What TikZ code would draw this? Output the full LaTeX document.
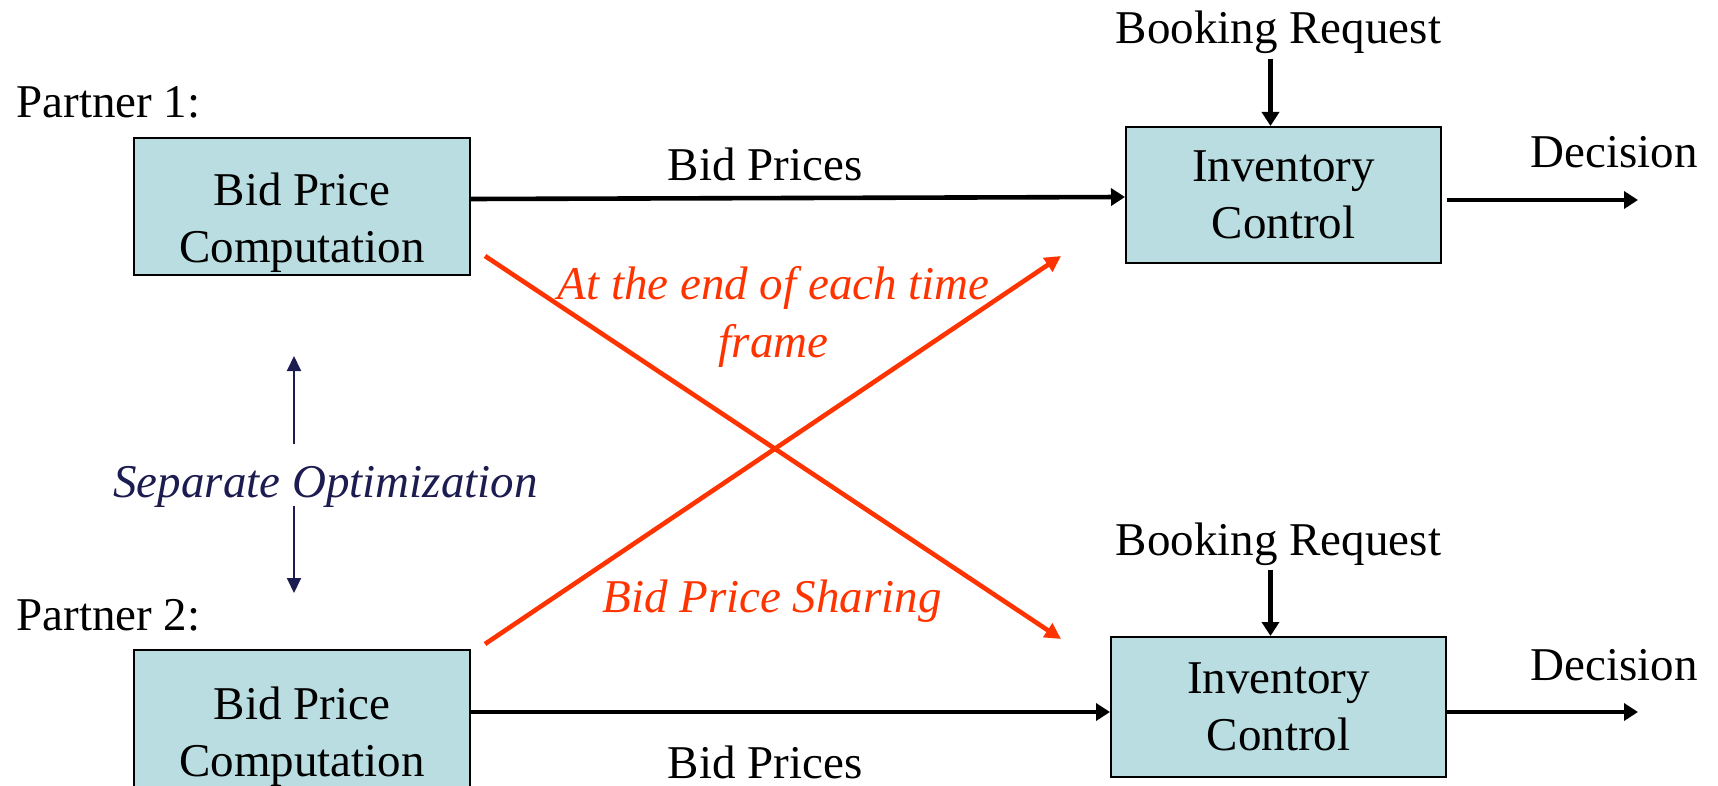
\documentclass[tikz,border=0pt]{standalone}
\usepackage{fontspec}
\setmainfont{Liberation Serif}
\usetikzlibrary{positioning,arrows.meta}
\definecolor{boxfill}{RGB}{185,221,224}
\definecolor{share}{RGB}{255,51,0}
\definecolor{navy}{RGB}{28,28,80}

\begin{document}
\begin{tikzpicture}[x=0.5pt,y=-0.5pt,font=\fontsize{23.5}{28.5}\selectfont,
  box/.style={draw,line width=1pt,fill=boxfill,align=center,inner sep=0pt},
  bidbox/.style={box,minimum width=168pt,minimum height=68.5pt,text height=60pt,text depth=4pt},
  txt/.style={inner sep=0pt,anchor=base},
  slanted/.style={txt,font=\fontsize{23.5}{28.5}\selectfont\itshape},
  flow/.style={line width=2.3pt,-{Triangle[length=7pt,width=8.5pt]}},
  sharing/.style={share,line width=2.3pt,-{Triangle[length=8pt,width=8pt]}},
  sep/.style={navy,line width=1pt,-{Triangle[length=7.5pt,width=7pt]}}]
\useasboundingbox (0,0) rectangle (1718,786);
% partner 1
\node[txt,anchor=base west] (p1) at (16,118) {Partner 1:};
\node[bidbox] (bp1) at (302,207) {Bid Price\\Computation};
\node[box,minimum width=157.5pt,minimum height=68pt] (ic1) at (1283.5,195) {Inventory\\Control};
\node[txt] (br1) at (1278.5,44) {Booking Request};
\node[txt] (dec1) at (1614,168) {Decision};
\node[txt] (bpr1) at (765,181) {Bid Prices};
% partner 2
\node[txt,anchor=base west] (p2) at (16,630) {Partner 2:};
\node[bidbox,minimum height=70pt] (bp2) at (302,720) {Bid Price\\Computation};
\node[box,minimum width=167.5pt,minimum height=70pt] (ic2) at (1278.5,707) {Inventory\\Control};
\node[txt] (br2) at (1278.5,555) {Booking Request};
\node[txt] (dec2) at (1614,680) {Decision};
\node[txt] (bpr2) at (765,778) {Bid Prices};
% middle
\node[slanted,navy] (sepopt) at (325.5,497) {Separate Optimization};
\node[slanted,share,align=center] (endframe) at (773.5,357) {At the end of each time\\frame};
\node[slanted,share] (sharing) at (772,612) {Bid Price Sharing};
\coordinate (d1) at (1638,200); \coordinate (d2) at (1638,712);
\coordinate (s1) at (485,256); \coordinate (e1) at (1061,639);
\coordinate (s2) at (485,644); \coordinate (e2) at (1061,256);
\coordinate (u1) at (294,444); \coordinate (u2) at (294,356);
\coordinate (l1) at (294,506); \coordinate (l2) at (294,593);
\draw[flow] ([yshift=4pt]bp1.east) -- ([yshift=-1pt]ic1.west);
\draw[flow] ([yshift=4pt]bp2.east) -- ([yshift=-2.5pt]ic2.west);
\draw[flow] ([xshift=-4pt,yshift=-2pt]br1.south) -- ([xshift=-4pt]br1.south |- ic1.north);
\draw[flow] ([xshift=-4pt,yshift=-2pt]br2.south) -- ([xshift=-4pt]br2.south |- ic2.north);
\draw[flow] ([xshift=2.5pt,yshift=-2.5pt]ic1.east) -- (d1);
\draw[flow] ([yshift=-2.5pt]ic2.east) -- (d2);
\draw[sharing] (s1) -- (e1);
\draw[sharing] (s2) -- (e2);
\draw[sep] (u1) -- (u2);
\draw[sep] (l1) -- (l2);
\end{tikzpicture}
\end{document}
